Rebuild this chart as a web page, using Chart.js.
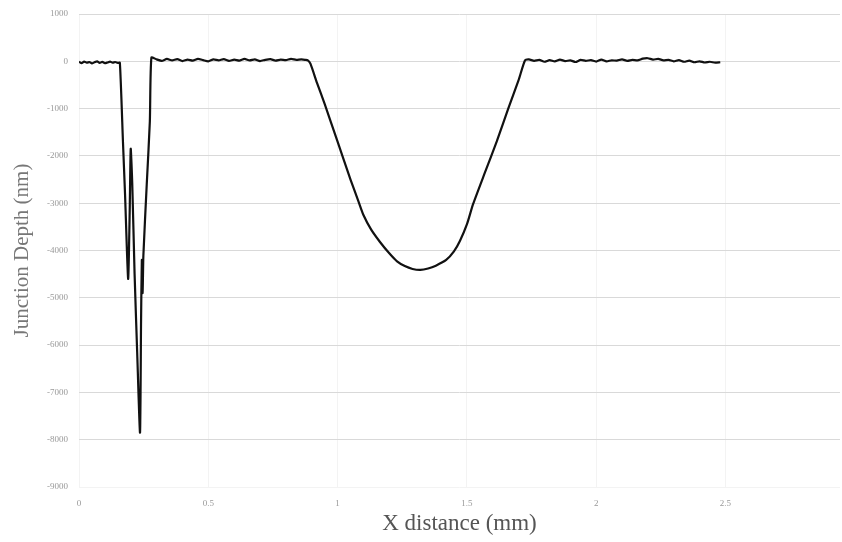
<!DOCTYPE html>
<html><head><meta charset="utf-8">
<script src="https://cdn.jsdelivr.net/npm/chart.js@4.4.1/dist/chart.umd.min.js"></script>
<style>html,body{margin:0;padding:0;background:#fff}#wrap{width:842px;height:542px}</style>
</head><body><div id="wrap"><canvas id="c" width="842" height="542"></canvas></div>
<script>
const xDistance = [
 0,0.01,0.02,0.03,0.04,0.05,0.06,0.07,0.08,0.09,0.1,0.11,0.12,0.13,0.14,0.15,0.158,
 0.17,0.178,0.19,0.196,0.2,0.206,0.215,0.225,0.236,0.24,0.243,0.246,0.249,0.262,0.274,0.28,
 0.3,0.32,0.34,0.36,0.38,0.4,0.42,0.44,0.46,0.48,0.5,0.52,0.54,0.56,0.58,0.6,0.62,0.64,0.66,0.68,0.7,0.72,0.74,0.76,0.78,0.8,0.82,0.84,0.86,0.875,
 0.885,0.895,0.92,0.95,1.0,1.05,1.08,1.1,1.13,1.164,1.2,1.23,1.26,1.29,1.32,1.35,1.38,1.42,1.45,1.473,1.5,1.524,1.57,1.616,1.66,1.7,1.725,
 1.74,1.76,1.78,1.8,1.82,1.84,1.86,1.88,1.9,1.92,1.94,1.96,1.98,2.0,2.02,2.04,2.06,2.08,2.1,2.12,2.14,2.16,2.18,2.2,2.22,2.24,2.26,2.28,2.3,2.32,2.34,2.36,2.38,2.4,2.42,2.44,2.46,2.48
];
const junctionDepth = [
 -10,-40,-5,-30,-15,-45,-20,0,-35,-10,-40,-25,-5,-30,-15,-35,-30,
 -1700,-2800,-4600,-3200,-1850,-2600,-4500,-6150,-7850,-5500,-4200,-4900,-4100,-2600,-1270,80,
 40,10,50,20,45,5,35,15,50,25,0,40,20,45,10,35,15,50,20,40,5,30,45,15,35,25,50,30,40,30,
 20,-50,-450,-900,-1700,-2500,-2950,-3250,-3560,-3820,-4060,-4230,-4330,-4390,-4410,-4380,-4320,-4200,-4020,-3800,-3450,-3020,-2350,-1690,-1000,-400,20,
 40,10,30,-10,25,0,35,5,20,-15,30,10,25,-5,35,0,20,15,40,10,30,20,55,65,35,50,20,30,0,25,-10,15,-20,0,-25,-10,-30,-20
];
const yTicks = [1000,0,-1000,-2000,-3000,-4000,-5000,-6000,-7000,-8000,-9000];
const xTicks = [0,0.5,1,1.5,2,2.5];

const pts = xDistance.map((x,i)=>({x:x,y:junctionDepth[i]}));
new Chart(document.getElementById('c'),{
 type:'scatter',
 data:{datasets:[{data:pts,showLine:true,borderColor:'#111',borderWidth:2.2,pointRadius:0,tension:0.2}]},
 options:{
  responsive:false,animation:false,
  layout:{padding:{top:14,right:2,left:0,bottom:0}},
  plugins:{legend:{display:false},tooltip:{enabled:false}},
  scales:{
   x:{type:'linear',min:0,max:2.943,
    afterBuildTicks:(a)=>{a.ticks=xTicks.map(v=>({value:v}));},
    afterFit:(a)=>{a.height=55;a.paddingLeft=0;a.paddingRight=0;},
    grid:{color:'#f3f3f3',drawTicks:false},border:{display:false},
    ticks:{color:'#999',font:{family:'Liberation Serif',size:9},padding:11,maxRotation:0,callback:(v)=>String(v)},
    title:{display:true,text:'X distance (mm)',color:'#555',font:{family:'Liberation Serif',size:23},padding:{top:0,bottom:4}}
   },
   y:{type:'linear',min:-9000,max:1000,
    afterBuildTicks:(a)=>{a.ticks=yTicks.map(v=>({value:v}));},
    afterFit:(a)=>{a.width=79;a.paddingTop=0;a.paddingBottom=0;},
    grid:{color:(c)=>c.tick&&c.tick.value===-9000?'#f3f3f3':'#d9d9d9',drawTicks:false},border:{display:false},
    ticks:{color:'#999',font:{family:'Liberation Serif',size:9},padding:11,callback:(v)=>String(v)},
    title:{display:true,text:'Junction Depth (nm)',color:'#777',font:{family:'Liberation Serif',size:21},padding:{top:10,bottom:0}}
   }
  }
 }
});
</script></body></html>
